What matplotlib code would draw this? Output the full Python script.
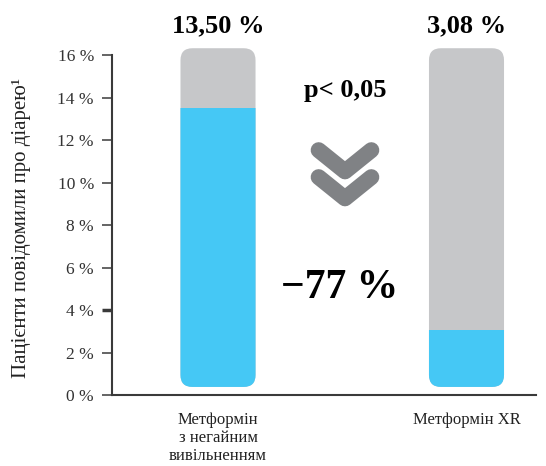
import matplotlib.pyplot as plt
from matplotlib.patches import FancyBboxPatch, Rectangle

# Дані
categories = ['Метформін\nз негайним\nвивільненням', 'Метформін XR']
values = [13.50, 3.08]
value_labels = ['13,50 %', '3,08 %']
yticks = [0, 2, 4, 6, 8, 10, 12, 14, 16]
p_text = 'p< 0,05'
diff_text = '\u221277 %'

plt.rcParams['font.family'] = ['Liberation Serif', 'DejaVu Serif']

fig = plt.figure(figsize=(5.46, 4.66), dpi=100)
ax = fig.add_axes([112 / 546, 71 / 466, 424 / 546, 361 / 466])
ax.set_xlim(-0.4266, 1.2797)
ax.set_ylim(0, 17)

bar_w = 0.302
bar_bottom = 0.38
bar_top = 16.33
r = 0.048
aspect = 11.7
blue = '#45C8F5'
gray = '#C6C7C9'

for i, v in enumerate(values):
    x0 = i - bar_w / 2
    # сірий фон
    bg = FancyBboxPatch((x0, bar_bottom), bar_w, bar_top - bar_bottom,
                        boxstyle=f'round,pad=0,rounding_size={r}',
                        mutation_aspect=aspect, fc=gray, ec='none', zorder=2)
    ax.add_patch(bg)
    # синя частина (обрізана до значення)
    fg = FancyBboxPatch((x0, bar_bottom), bar_w, bar_top - bar_bottom,
                        boxstyle=f'round,pad=0,rounding_size={r}',
                        mutation_aspect=aspect, fc=blue, ec='none', zorder=3)
    ax.add_patch(fg)
    clip = Rectangle((x0 - 0.01, 0), bar_w + 0.02, v, transform=ax.transData)
    fg.set_clip_path(clip)
    ax.text(i, 17.4, value_labels[i], ha='center', va='center',
            fontsize=19, fontweight='bold', clip_on=False)

# подвійна стрілка
for yy in [11.53, 10.26]:
    ax.plot([0.405, 0.511, 0.617], [yy, yy - 1.0, yy], color='#808285',
            lw=11.5, solid_capstyle='round', solid_joinstyle='round', zorder=4)

ax.text(0.511, 14.35, p_text, ha='center', va='center', fontsize=19, fontweight='bold')
ax.text(0.49, 5.03, diff_text, ha='center', va='center', fontsize=30, fontweight='bold')

# осі
for s in ['top', 'right']:
    ax.spines[s].set_visible(False)
ax.spines['left'].set_bounds(0, 16)
ax.spines['left'].set_color('#3a3a3a')
ax.spines['bottom'].set_color('#3a3a3a')
ax.spines['left'].set_linewidth(1.5)
ax.spines['bottom'].set_linewidth(1.5)

ax.set_yticks(yticks)
ax.set_yticklabels([f'{t} %' for t in yticks])
ax.tick_params(axis='y', length=7, width=1.1, color='#3a3a3a', pad=6,
               labelsize=12.5, labelcolor='#333333')
ax.get_yticklines()[4].set_markeredgewidth(2.5)
ax.get_yticklines()[4].set_color('black')

ax.set_xticks([0, 1])
ax.set_xticklabels(categories, fontsize=12, linespacing=1.2, color='#222222')
ax.tick_params(axis='x', length=0, pad=12)

ax.set_ylabel('Пацієнти повідомили про діарею¹', fontsize=15, color='#222222')
ax.yaxis.set_label_coords(-0.19, 0.462)

fig.savefig('out.png', dpi=100)
